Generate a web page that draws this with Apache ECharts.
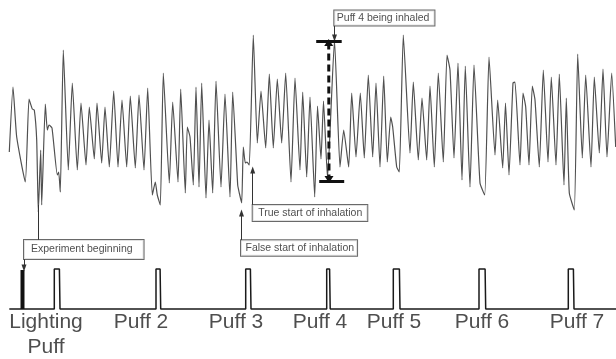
<!DOCTYPE html>
<html>
<head>
<meta charset="utf-8">
<script src="https://cdn.jsdelivr.net/npm/echarts@6/dist/echarts.min.js"></script>
<style>
html, body { margin: 0; padding: 0; background: #fff; }
#chart { width: 616px; height: 359px; }
</style>
</head>
<body>
<div id="chart"></div>
<script>
// breathing signal (time in samples, amplitude in arbitrary units)
const traceTime = [
  9.3, 13, 16.7, 25.3, 29, 32.3, 34.3, 36.7, 38.3, 40.7, 41.7, 45.3, 47.3, 49, 52, 57.3, 58.7, 60.3,
  63.3, 68.3, 72.3, 77.3, 81, 86, 89.3, 94.3, 97, 101.7, 105, 109.3, 113.7, 118, 122, 126.7, 130.3,
  135.3, 139, 144, 147.7, 152.3, 155.3, 157.3, 160.3, 163.3, 169.3, 172.7, 178, 180.7, 185.3, 187.3,
  190, 193.3, 196, 199, 201.7, 206, 209, 212.7, 216, 221, 225, 230, 232.7, 237.7, 239.3, 241.7,
  243.3, 245.3, 247, 249.3, 253.3, 257.3, 261, 265.7, 269.3, 273.3, 277.3, 281.7, 285.7, 291, 295,
  300, 302.7, 306.7, 310, 314.7, 317.5, 321, 323.5, 327.5, 334.5, 340, 343.7, 348.7, 351.7, 356,
  360.3, 364.3, 368.3, 372.7, 376, 380, 383.7, 387.3, 390.7, 392.7, 396.7, 399.3, 403.3, 410, 413.3,
  418.3, 422, 426.7, 430, 434.3, 438.3, 443.3, 447, 450, 454, 458, 462, 465.3, 470, 474, 480, 484.7,
  489, 495, 497.7, 502.7, 505.5, 509, 513, 515, 520, 523, 525.7, 529, 532.3, 535, 539.3, 543.3, 548,
  551.3, 556, 559.3, 564, 566.3, 569.3, 574.3, 577.7, 582.3, 585.7, 591, 594.3, 599.3, 603, 607,
  611.7, 615.7
];
const traceAmp = [
  157, 222, 172, 127, 210, 200, 199, 169, 97, 159, 104, 205, 179, 184, 181, 134, 137, 117,
  259, 139, 226, 139, 206, 144, 202, 150, 206, 146, 202, 142, 218, 142, 209, 142, 213,
  141, 214, 139, 221, 114, 127, 114, 104, 236, 126, 207, 127, 220, 116, 182,
  172, 124, 222, 122, 226, 111, 189, 116, 228, 122, 215, 112, 217, 124, 116, 106,
  162, 146, 147, 144, 274, 166, 218, 161, 235, 161, 230, 166, 236, 127, 231,
  139, 217, 132, 212, 112, 203, 150, 208, 131, 269, 142, 179, 142, 216, 152,
  216, 151, 234, 152, 226, 142, 233, 147, 192, 182, 142, 137, 274, 156, 227,
  149, 211, 149, 223, 142, 236, 147, 254, 239, 151, 246, 129, 243, 122, 244, 126, 114,
  252, 154, 209, 141, 206, 134, 226, 227, 144, 216, 202, 144, 223, 209, 142, 239, 147,
  232, 144, 235, 124, 211, 116, 99, 255, 151, 234, 142, 232, 156, 240, 152,
  236, 162
];

// puff trigger channel
const puffOn = [54.3, 156, 245.7, 326.7, 393.3, 479, 568.3];
const puffOff = [60, 160.7, 251, 330.2, 400, 485.7, 574];
const puffHigh = 40;
const channelStart = 9.3;
const channelEnd = 616;
const experimentStart = 22.5;
const puffNames = ['Lighting\nPuff', 'Puff 2', 'Puff 3', 'Puff 4', 'Puff 5', 'Puff 6', 'Puff 7'];
const puffNameAt = [46, 141, 236, 320, 394, 482, 577];

// annotations
const noteText = ['Experiment beginning', 'False start of inhalation', 'True start of inhalation', 'Puff 4 being inhaled'];
const noteAt = [[24, 59.5], [241, 61], [252.7, 96], [334.3, 291]];
const noteArrowFrom = [[24, 50], [241.5, 68], [252.7, 104], [334.5, 283.5]];
const noteArrowTo = [[24, 41], [241.5, 96], [252.7, 139], [334.5, 271]];
const startLink = [[38.5, 104], [38.5, 69]];
const inhaleTime = 328.7;
const inhaleTop = 268;
const inhaleBottom = 128;

const font = 'Liberation Sans, Arial, Helvetica, sans-serif';
const notePadding = [[4, 11, 3, 7], [2, 3, 1.5, 4.5], [2, 5, 2, 5.5], [1.5, 5, 1.5, 2.5]];

var chart = echarts.init(document.getElementById('chart'));

let pulseData = [[channelStart, 0]];
puffOn.forEach((t, i) => {
  pulseData.push([t, 0], [t, puffHigh], [puffOff[i] - 0.6, puffHigh], [puffOff[i], 0]);
});
pulseData.push([channelEnd, 0]);

let arrowLines = noteArrowFrom.map((p, i) => [
  {coord: p, symbol: 'none'},
  {coord: noteArrowTo[i], symbol: 'triangle'}
]);
arrowLines.push([
  {coord: startLink[0], symbol: 'none'},
  {coord: startLink[1], symbol: 'none'}
]);
arrowLines.push([
  {coord: [inhaleTime - 12.5, inhaleTop], symbol: 'none', lineStyle: {width: 3, color: '#111'}},
  {coord: [inhaleTime + 13, inhaleTop], symbol: 'none'}
]);
arrowLines.push([
  {coord: [inhaleTime - 9.5, inhaleBottom], symbol: 'none', lineStyle: {width: 3, color: '#111'}},
  {coord: [inhaleTime + 15.5, inhaleBottom], symbol: 'none'}
]);
arrowLines.push([
  {coord: [inhaleTime, inhaleTop - 1.5], symbol: 'triangle', symbolSize: [9, 7],
    lineStyle: {width: 3, color: '#111', type: [7, 4]}},
  {coord: [inhaleTime + 0.3, inhaleBottom + 1.5], symbol: 'triangle', symbolSize: [9, 7]}
]);

option = {
  animation: false,
  backgroundColor: '#fff',
  grid: {left: 0, right: 0, top: 0, bottom: 0},
  xAxis: {type: 'value', min: 0, max: 616, show: false},
  yAxis: {type: 'value', min: -50, max: 309, show: false},
  series: [
    {
      type: 'line',
      data: traceTime.map((t, i) => [t, traceAmp[i]]),
      showSymbol: false,
      smooth: 0.15,
      lineStyle: {color: '#505050', width: 1.2},
      z: 2,
      markLine: {
        silent: true,
        symbolSize: [5, 7],
        label: {show: false},
        lineStyle: {color: '#333', width: 1, type: 'solid'},
        data: arrowLines
      }
    },
    {
      type: 'line',
      data: pulseData,
      showSymbol: false,
      lineStyle: {color: '#1a1a1a', width: 1.5}
    },
    {
      type: 'line',
      data: [[experimentStart, 0], [experimentStart, 39]],
      showSymbol: false,
      lineStyle: {color: '#111', width: 4}
    },
    {
      type: 'scatter',
      symbolSize: 0,
      silent: true,
      z: 5,
      data: noteText.map((s, i) => ({
        name: s,
        value: noteAt[i],
        label: {padding: notePadding[i]}
      })),
      label: {
        show: true,
        position: 'inside',
        align: 'left',
        verticalAlign: 'middle',
        formatter: '{b}',
        fontFamily: font,
        fontSize: 10.5,
        lineHeight: 12,
        color: '#222',
        backgroundColor: '#fff',
        borderColor: '#444',
        borderWidth: 1
      }
    },
    {
      type: 'scatter',
      symbolSize: 0,
      silent: true,
      data: puffNames.map((s, i) => ({name: s, value: [puffNameAt[i], 0]})),
      label: {
        show: true,
        position: 'inside',
        align: 'center',
        verticalAlign: 'top',
        offset: [0, 1],
        formatter: '{b}',
        fontFamily: font,
        fontSize: 21,
        lineHeight: 25,
        color: '#222'
      }
    }
  ]
};

chart.setOption(option);
</script>
</body>
</html>
